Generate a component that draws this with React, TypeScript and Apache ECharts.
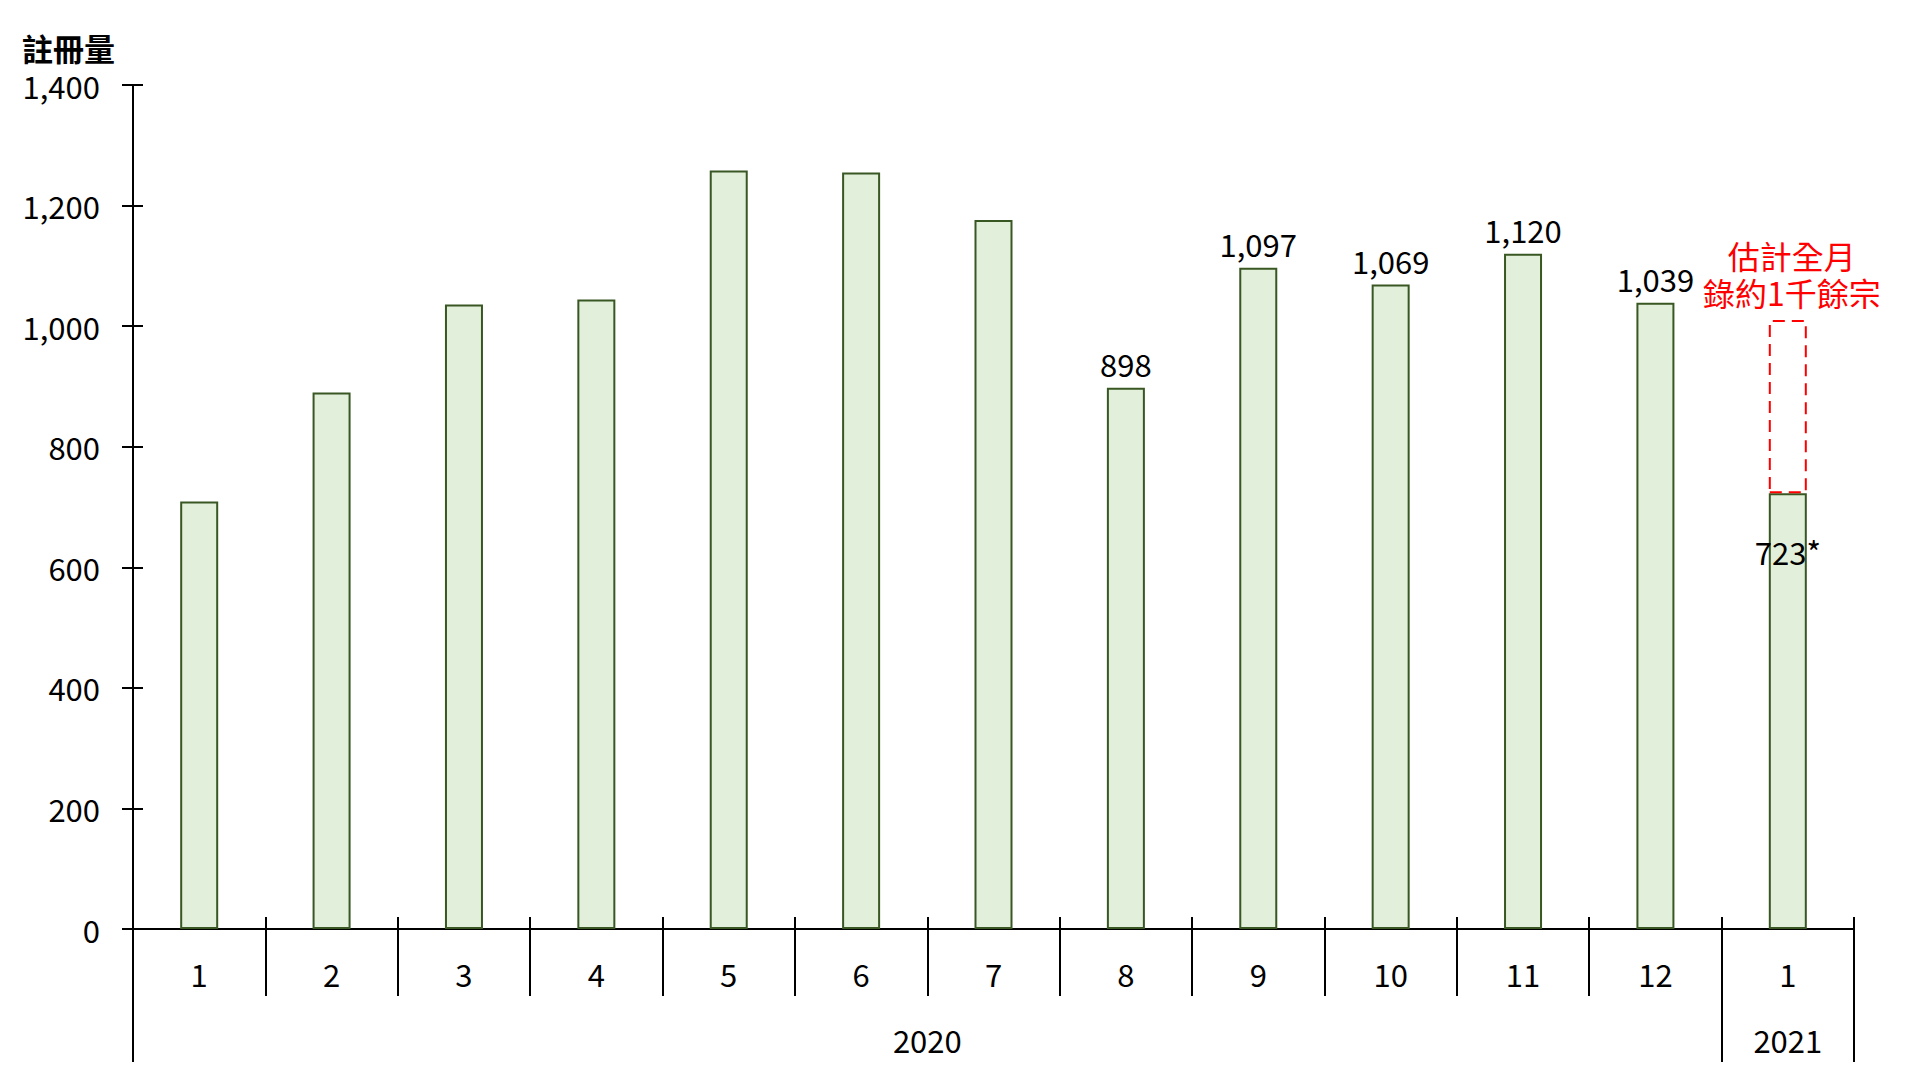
import React, { useEffect, useRef } from "react";
import * as echarts from "echarts";

const months = ["1", "2", "3", "4", "5", "6", "7", "8", "9", "10", "11", "12", "1"];
const registrations = [709, 890, 1036, 1044, 1258, 1255, 1176, 898, 1097, 1069, 1120, 1039, 723];
const labeled = [false, false, false, false, false, false, false, true, true, true, true, true, true];
const estimatedFullMonth = [null, null, null, null, null, null, null, null, null, null, null, null, 1010];
const yTicks = { min: 0, max: 1400, interval: 200 };
const yearLabels = [
  { text: "2020", halfPos: 12 },
  { text: "2021", halfPos: 25 },
];
const yearBoundaryIdx = [0, 12];
const axisTitle = "註冊量";
const estimateNote = "估計全月\n錄約1千餘宗";

const FONT = '"Noto Sans CJK TC", "Noto Sans", sans-serif';

export default function App() {
  const ref = useRef<HTMLDivElement>(null);
  useEffect(() => {
    if (!ref.current) return;
    const chart = echarts.init(ref.current, null, { renderer: "svg" });
    const last = registrations.length - 1;
    const fmt = (v: number) => v.toLocaleString("en-US");
    const mainData = registrations.map((v, i) => ({
      value: v,
      label: {
        show: labeled[i],
        position: i === last ? "insideTop" : "top",
        distance: i === last ? 43 : 9,
        formatter: i === last ? fmt(v) + "*" : fmt(v),
      },
    }));
    const extraData = estimatedFullMonth.map((v, i) => (v == null ? "-" : v - registrations[i]));
    const gridBox = { left: 133, right: 66, top: 85, bottom: 151 };
    chart.setOption({
      animation: false,
      backgroundColor: "#ffffff",
      textStyle: { fontFamily: FONT },
      title: {
        text: axisTitle,
        left: 22,
        top: 32,
        padding: 0,
        textStyle: { fontSize: 31, fontWeight: "bold", color: "#000", fontFamily: FONT },
      },
      grid: gridBox,
      xAxis: [
        {
          type: "category",
          data: months,
          position: "bottom",
          axisLine: { show: true, lineStyle: { color: "#000", width: 2 } },
          axisTick: { show: true, inside: false, length: 67, interval: 0, lineStyle: { color: "#000", width: 2 } },
          axisLabel: { show: true, interval: 0, margin: 29, fontSize: 31, color: "#000", fontFamily: FONT },
          splitLine: { show: false },
        },
        {
          type: "category",
          data: months,
          position: "bottom",
          axisLine: { show: false },
          axisTick: { show: true, inside: true, length: 12, interval: 0, lineStyle: { color: "#000", width: 2 } },
          axisLabel: { show: false },
          splitLine: { show: false },
        },
        {
          type: "category",
          data: months,
          position: "bottom",
          axisLine: { show: false },
          axisTick: {
            show: true,
            inside: false,
            length: 133,
            interval: (idx: number) => yearBoundaryIdx.includes(idx),
            lineStyle: { color: "#000", width: 2 },
          },
          axisLabel: { show: false },
          splitLine: { show: false },
        },
        {
          type: "value",
          position: "bottom",
          min: 0,
          max: months.length * 2,
          interval: 1,
          axisLine: { show: false },
          axisTick: { show: false },
          splitLine: { show: false },
          axisLabel: {
            show: true,
            margin: 95,
            fontSize: 31,
            color: "#000",
            fontFamily: FONT,
            showMinLabel: true,
            showMaxLabel: true,
            formatter: (v: number) => {
              const y = yearLabels.find((l) => l.halfPos === v);
              return y ? y.text : "";
            },
          },
        },
      ],
      yAxis: [
        {
          type: "value",
          position: "left",
          ...yTicks,
          axisLine: { show: true, lineStyle: { color: "#000", width: 2 } },
          axisTick: { show: true, inside: false, length: 11, lineStyle: { color: "#000", width: 2 } },
          axisLabel: { show: true, margin: 33, fontSize: 31, color: "#000", fontFamily: FONT, formatter: fmt },
          splitLine: { show: false },
        },
        {
          type: "value",
          position: "left",
          ...yTicks,
          axisLine: { show: false },
          axisTick: { show: true, inside: true, length: 10, lineStyle: { color: "#000", width: 2 } },
          axisLabel: { show: false },
          splitLine: { show: false },
        },
      ],
      series: [
        {
          type: "bar",
          stack: "m",
          xAxisIndex: 0,
          yAxisIndex: 0,
          barWidth: 38,
          data: mainData,
          itemStyle: { color: "#E2EFDA", borderColor: "#385723", borderWidth: 2 },
          label: { color: "#000", fontSize: 31, fontFamily: FONT },
        },
        {
          type: "bar",
          stack: "m",
          xAxisIndex: 0,
          yAxisIndex: 0,
          barWidth: 38,
          data: extraData,
          itemStyle: { color: "rgba(0,0,0,0)", borderColor: "#FF0000", borderWidth: 2, borderType: [12, 7] },
          label: {
            show: true,
            position: "top",
            distance: 10,
            offset: [4, 0],
            formatter: () => estimateNote,
            color: "#FF0000",
            fontSize: 32,
            lineHeight: 37,
            fontFamily: FONT,
            align: "center",
          },
        },
      ],
    });
    return () => chart.dispose();
  }, []);
  return (
    <div
      ref={ref}
      style={{ position: "fixed", left: 0, top: 0, width: 1920, height: 1080, background: "#fff" }}
    />
  );
}
